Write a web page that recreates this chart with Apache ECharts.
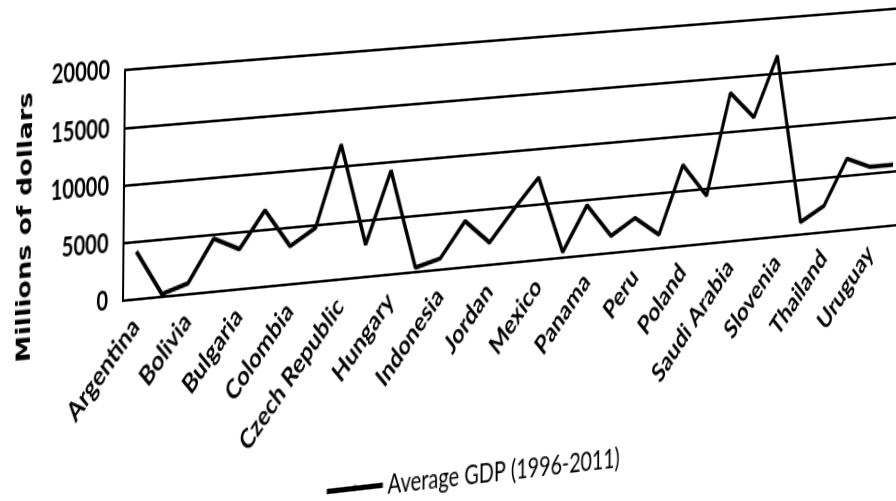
<!DOCTYPE html>
<html>
<head>
<meta charset="utf-8">
<script src="https://cdn.jsdelivr.net/npm/echarts@6/dist/echarts.min.js"></script>
<style>
  html, body { margin: 0; padding: 0; background: #fff; overflow: hidden; width: 896px; height: 501px; }
  #chart { position: absolute; left: 0; top: 0; width: 1000px; height: 460px; transform-origin: 0 0; }
</style>
</head>
<body>
<div id="chart"></div>
<script>
// Countries along the category axis (every other one is labelled)
const countries = [
  'Argentina', 'Belarus', 'Bolivia', 'Brazil', 'Bulgaria', 'Chile', 'Colombia', 'Croatia',
  'Czech Republic', 'Estonia', 'Hungary', 'India', 'Indonesia', 'Jamaica', 'Jordan', 'Lithuania',
  'Mexico', 'Morocco', 'Panama', 'Paraguay', 'Peru', 'Philippines', 'Poland', 'Romania',
  'Saudi Arabia', 'Slovak Republic', 'Slovenia', 'South Africa', 'Thailand', 'Turkey', 'Uruguay', 'Venezuela'
];

// Average GDP 1996-2011, millions of dollars
const avgGdp = [
  4150, 250, 950, 4650, 3500, 6700, 3350, 4750,
  11900, 2850, 9200, 400, 1000, 4100, 2000, 4800,
  7400, 500, 4500, 1550, 2950, 1250, 7350, 4350,
  13500, 11100, 16550, 1150, 2400, 6550, 5600, 5600
];

const seriesName = 'Average GDP (1996-2011)';
const axisTitle = 'Millions of dollars';
const yMin = 0, yMax = 20000, yStep = 5000;

// Plot rectangle inside the flat chart canvas
const PLOT = { left: 130, top: 40, width: 832, height: 173 };
// Where the plot corners land on the page (TL, TR, BR, BL): the sheet is seen tilted
const QUAD = [[125, 70], [904.5, 8], [904.5, 224.4], [123, 300.7]];

function solveHomography(src, dst) {
  const A = [], B = [];
  for (let i = 0; i < 4; i++) {
    const [x, y] = src[i], [X, Y] = dst[i];
    A.push([x, y, 1, 0, 0, 0, -x * X, -y * X]); B.push(X);
    A.push([0, 0, 0, x, y, 1, -x * Y, -y * Y]); B.push(Y);
  }
  const n = 8;
  for (let c = 0; c < n; c++) {
    let p = c;
    for (let r = c + 1; r < n; r++) if (Math.abs(A[r][c]) > Math.abs(A[p][c])) p = r;
    [A[c], A[p]] = [A[p], A[c]]; [B[c], B[p]] = [B[p], B[c]];
    for (let r = 0; r < n; r++) {
      if (r === c) continue;
      const f = A[r][c] / A[c][c];
      for (let k = c; k < n; k++) A[r][k] -= f * A[c][k];
      B[r] -= f * B[c];
    }
  }
  return B.map((v, i) => v / A[i][i]);
}
function mapPoint(h, p) {
  const w = h[6] * p[0] + h[7] * p[1] + 1;
  return [(h[0] * p[0] + h[1] * p[1] + h[2]) / w, (h[3] * p[0] + h[4] * p[1] + h[5]) / w];
}

const flatCorners = [
  [PLOT.left, PLOT.top], [PLOT.left + PLOT.width, PLOT.top],
  [PLOT.left + PLOT.width, PLOT.top + PLOT.height], [PLOT.left, PLOT.top + PLOT.height]
];
const H = solveHomography(flatCorners, QUAD);
const Hinv = solveHomography(QUAD, flatCorners);

const el = document.getElementById('chart');
el.style.transform = `matrix3d(${H[0]},${H[3]},0,${H[6]},${H[1]},${H[4]},0,${H[7]},0,0,1,0,${H[2]},${H[5]},0,1)`;

const titlePos = mapPoint(Hinv, [26, 227]);
const legendPos = mapPoint(Hinv, [320, 489]);

const font = 'Lato, "Open Sans", sans-serif';
const chart = echarts.init(el, null, { renderer: 'canvas' });
chart.setOption({
  animation: false,
  backgroundColor: '#fff',
  grid: { left: PLOT.left, top: PLOT.top, width: PLOT.width, height: PLOT.height, containLabel: false },
  xAxis: {
    type: 'category',
    data: countries,
    boundaryGap: true,
    axisLine: { show: true, lineStyle: { color: '#000', width: 2 } },
    axisTick: { show: false },
    axisLabel: { interval: 1, rotate: 46, margin: 17, color: '#000', fontFamily: font, fontSize: 21, fontWeight: 'bold' },
    splitLine: { show: false }
  },
  yAxis: {
    type: 'value',
    min: yMin, max: yMax, interval: yStep,
    axisLine: { show: true, lineStyle: { color: '#000', width: 2 } },
    axisTick: { show: false },
    axisLabel: { margin: 15, color: '#000', fontFamily: font, fontSize: 20, fontWeight: 'bold', formatter: v => String(v) },
    splitLine: { show: true, lineStyle: { color: '#000', width: 2 } }
  },
  legend: {
    left: legendPos[0], top: legendPos[1] - 13,
    itemWidth: 58, itemHeight: 6, itemGap: 3,
    lineStyle: { width: 4, color: '#000' },
    textStyle: { color: '#000', fontFamily: font, fontSize: 21 },
    data: [seriesName]
  },
  graphic: [{
    type: 'text',
    x: titlePos[0], y: titlePos[1],
    rotation: Math.PI / 2,
    style: {
      text: axisTitle, fill: '#000',
      font: 'bold 20px "DejaVu Sans", sans-serif',
      align: 'center', verticalAlign: 'middle'
    }
  }],
  series: [{
    name: seriesName,
    type: 'line',
    data: avgGdp,
    symbol: 'none',
    lineStyle: { color: '#000', width: 3.5 },
    itemStyle: { color: '#000' }
  }]
});
</script>
</body>
</html>
